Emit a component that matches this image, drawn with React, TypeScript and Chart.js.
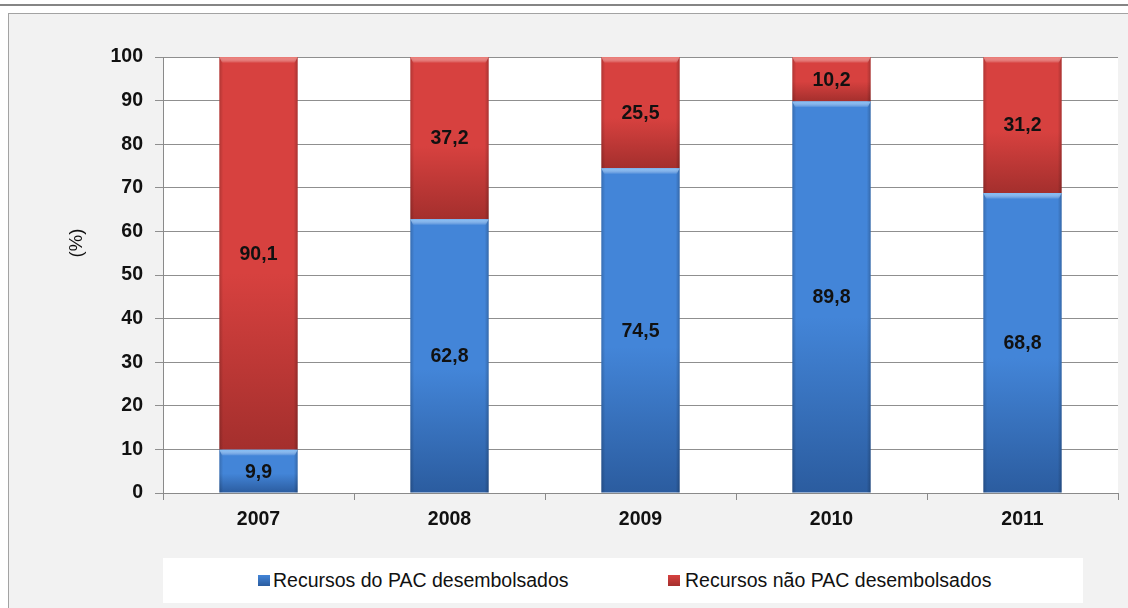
import React, { useEffect, useRef } from "react";
import { Chart, registerables } from "chart.js";

Chart.register(...registerables);

const categories = ["2007", "2008", "2009", "2010", "2011"];
const pacValues = [9.9, 62.8, 74.5, 89.8, 68.8];
const naoPacValues = [90.1, 37.2, 25.5, 10.2, 31.2];
const seriesNames = ["Recursos do PAC desembolsados", "Recursos não PAC desembolsados"];
const yAxisTitle = "(%)";
const yMin = 0;
const yMax = 100;
const yStep = 10;

const FONT = "'Liberation Sans', Arial, sans-serif";
const BLUE = ["#4385d8", "#2b5c9f"];
const RED = ["#d7413f", "#a42f2d"];
const BLUE_HI = "#80bbf5";
const RED_HI = "#ea7670";

function fmt(v: number) {
  return v.toFixed(1).replace(".", ",");
}

function segmentFill(ctx: any, colors: string[]) {
  const chart = ctx.chart;
  const ys = chart.scales && chart.scales.y;
  if (!ys || ctx.type !== "data") return colors[0];
  const i = ctx.dataIndex;
  const start = ctx.datasetIndex === 0 ? 0 : pacValues[i];
  const end = ctx.datasetIndex === 0 ? pacValues[i] : pacValues[i] + naoPacValues[i];
  const p0 = ys.getPixelForValue(end);
  const p1 = ys.getPixelForValue(start);
  if (!isFinite(p0) || !isFinite(p1) || p0 === p1) return colors[0];
  const g = chart.ctx.createLinearGradient(0, p0, 0, p1);
  g.addColorStop(0, colors[0]);
  g.addColorStop(0.55, colors[0]);
  g.addColorStop(1, colors[1]);
  return g;
}

const plotBgPlugin = {
  id: "plotBg",
  beforeDraw(chart: any) {
    const { ctx, chartArea } = chart;
    ctx.save();
    ctx.fillStyle = "#ffffff";
    ctx.fillRect(chartArea.left, chartArea.top, chartArea.right - chartArea.left, chartArea.bottom - chartArea.top);
    ctx.restore();
  },
};

const bevelPlugin = {
  id: "bevel",
  afterDatasetsDraw(chart: any) {
    const { ctx } = chart;
    chart.data.datasets.forEach((ds: any, di: number) => {
      const meta = chart.getDatasetMeta(di);
      const hi = di === 0 ? BLUE_HI : RED_HI;
      meta.data.forEach((el: any) => {
        const { x, y, base, width } = el.getProps(["x", "y", "base", "width"], true);
        const top = Math.min(y, base);
        const bottom = Math.max(y, base);
        const left = x - width / 2;
        ctx.save();
        const sg = ctx.createLinearGradient(left, 0, left + width, 0);
        sg.addColorStop(0, "rgba(0,0,0,0.18)");
        sg.addColorStop(0.05, "rgba(0,0,0,0)");
        sg.addColorStop(0.95, "rgba(0,0,0,0)");
        sg.addColorStop(1, "rgba(0,0,0,0.22)");
        ctx.fillStyle = sg;
        ctx.fillRect(left, top, width, bottom - top);
        const h = Math.min(6, bottom - top);
        const tg = ctx.createLinearGradient(0, top, 0, top + h);
        tg.addColorStop(0, hi);
        tg.addColorStop(1, "rgba(255,255,255,0)");
        ctx.fillStyle = tg;
        ctx.beginPath();
        ctx.moveTo(left, top);
        ctx.lineTo(left + width, top);
        ctx.lineTo(left + width - 3, top + h);
        ctx.lineTo(left + 3, top + h);
        ctx.closePath();
        ctx.fill();
        ctx.restore();
      });
    });
  },
};

const valueLabelPlugin = {
  id: "valueLabels",
  afterDatasetsDraw(chart: any) {
    const { ctx } = chart;
    ctx.save();
    ctx.font = `bold 19.5px ${FONT}`;
    ctx.fillStyle = "#111111";
    ctx.textAlign = "center";
    ctx.textBaseline = "middle";
    chart.data.datasets.forEach((ds: any, di: number) => {
      const meta = chart.getDatasetMeta(di);
      meta.data.forEach((el: any, i: number) => {
        const { x, y, base } = el.getProps(["x", "y", "base"], true);
        ctx.fillText(fmt(ds.data[i]), x, (y + base) / 2 + 1);
      });
    });
    ctx.restore();
  },
};

const yTitlePlugin = {
  id: "yTitle",
  afterDraw(chart: any) {
    const { ctx } = chart;
    ctx.save();
    ctx.font = `18.5px ${FONT}`;
    ctx.fillStyle = "#111111";
    ctx.textAlign = "center";
    ctx.textBaseline = "middle";
    ctx.translate(77, 243);
    ctx.rotate(-Math.PI / 2);
    ctx.fillText(yAxisTitle, 0, 0);
    ctx.restore();
  },
};

export default function App() {
  const canvasRef = useRef<HTMLCanvasElement | null>(null);

  useEffect(() => {
    if (!canvasRef.current) return;
    const chart = new Chart(canvasRef.current, {
      type: "bar",
      data: {
        labels: categories,
        datasets: [
          {
            label: seriesNames[0],
            data: pacValues,
            backgroundColor: (c: any) => segmentFill(c, BLUE),
            borderWidth: 0,
            barPercentage: 0.41,
            categoryPercentage: 1,
          },
          {
            label: seriesNames[1],
            data: naoPacValues,
            backgroundColor: (c: any) => segmentFill(c, RED),
            borderWidth: 0,
            barPercentage: 0.41,
            categoryPercentage: 1,
          },
        ],
      },
      options: {
        responsive: false,
        animation: false,
        devicePixelRatio: 1,
        layout: { padding: { left: 0, top: 57, right: 10, bottom: 75 } },
        plugins: {
          legend: { display: false },
          tooltip: { enabled: false },
          title: { display: false },
        },
        scales: {
          x: {
            stacked: true,
            afterFit: (s: any) => {
              s.height = 40;
            },
            grid: {
              display: true,
              drawOnChartArea: false,
              drawTicks: true,
              tickLength: 7,
              color: "#8a8a8a",
            },
            border: { display: true, color: "#8a8a8a", width: 1 },
            ticks: {
              color: "#111111",
              font: { family: FONT, size: 19.5, weight: "bold" },
              padding: 8,
            },
          },
          y: {
            stacked: true,
            min: yMin,
            max: yMax,
            afterFit: (s: any) => {
              s.width = 163;
            },
            grid: {
              color: "#8f8f8f",
              tickLength: 8,
              drawTicks: true,
            },
            border: { display: true, color: "#8a8a8a", width: 1 },
            ticks: {
              stepSize: yStep,
              color: "#111111",
              font: { family: FONT, size: 19.5, weight: "bold" },
              padding: 12,
            },
          },
        },
      },
      plugins: [plotBgPlugin, bevelPlugin, valueLabelPlugin, yTitlePlugin],
    } as any);
    return () => chart.destroy();
  }, []);

  const legendText: React.CSSProperties = {
    position: "absolute",
    top: 0,
    lineHeight: "45px",
    fontFamily: FONT,
    fontSize: "19.5px",
    color: "#111111",
    whiteSpace: "nowrap",
  };
  const marker = (c: string[]): React.CSSProperties => ({
    position: "absolute",
    top: 17,
    width: 12,
    height: 11,
    background: `linear-gradient(to bottom, ${c[0]}, ${c[1]})`,
  });

  return (
    <div
      style={{
        position: "absolute",
        left: 0,
        top: 0,
        width: 1128,
        height: 608,
        overflow: "hidden",
        background: "#ffffff",
      }}
    >
      <div style={{ position: "absolute", left: 0, top: 4, width: 1128, height: 2, background: "#858585" }} />
      <div
        style={{
          position: "absolute",
          left: 8,
          top: 13,
          width: 1140,
          height: 620,
          background: "#f2f2f2",
          border: "1px solid #a3a3a3",
        }}
      />
      <canvas ref={canvasRef} width={1128} height={608} style={{ position: "absolute", left: 0, top: 0, width: 1128, height: 608 }} />
      <div style={{ position: "absolute", left: 163, top: 558, width: 920, height: 45, background: "#ffffff" }}>
        <div style={{ ...marker(BLUE), left: 95 }} />
        <span style={{ ...legendText, left: 110 }}>{seriesNames[0]}</span>
        <div style={{ ...marker(RED), left: 505 }} />
        <span style={{ ...legendText, left: 522 }}>{seriesNames[1]}</span>
      </div>
    </div>
  );
}
